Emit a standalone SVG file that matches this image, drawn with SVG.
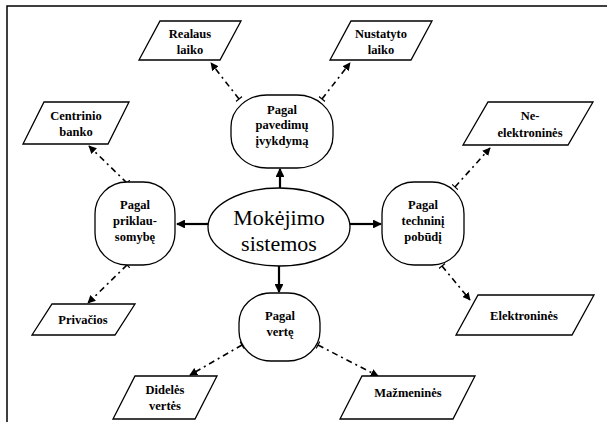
<svg xmlns="http://www.w3.org/2000/svg" width="607" height="422" viewBox="0 0 607 422">
<style>
.shape{fill:#fff;stroke:#000;stroke-width:1.3}
.t{font-family:"Liberation Serif","Times New Roman",serif;font-size:12.5px;font-weight:bold;text-anchor:middle;fill:#000}
.big{font-family:"Liberation Serif","Times New Roman",serif;font-size:22px;text-anchor:middle;fill:#000}
.solid{stroke:#000;stroke-width:2.2;fill:none;marker-end:url(#ah)}
.dash{stroke:#000;stroke-width:1.6;fill:none;stroke-dasharray:6 4 2 4;marker-end:url(#ahs);marker-start:url(#tick)}
</style>
<defs>
<marker id="ah" viewBox="0 0 10 10" refX="9" refY="5" markerWidth="4" markerHeight="4" orient="auto" markerUnits="strokeWidth">
<path d="M0,0 L10,5 L0,10 Z" fill="#000"/>
</marker>
<marker id="ahs" viewBox="0 0 10 10" refX="9" refY="5" markerWidth="5" markerHeight="5" orient="auto" markerUnits="strokeWidth">
<path d="M0,0 L10,5 L0,10 Z" fill="#000"/>
</marker>
<marker id="tick" viewBox="0 0 4 10" refX="1" refY="5" markerWidth="2.5" markerHeight="5" orient="auto" markerUnits="strokeWidth">
<path d="M1,0 L1,10" stroke="#000" stroke-width="1.5"/>
</marker>
</defs>
<rect width="607" height="422" fill="#fff"/>
<g id="frame">
<path d="M7,422 L7,6 L607,6" fill="none" stroke="#000" stroke-width="1.5"/>
</g>
<g id="connectors">
<path class="solid" d="M280,188 L280,169"/>
<path class="solid" d="M208,224 L177,224"/>
<path class="solid" d="M350,224 L381,224"/>
<path class="solid" d="M279,266 L279,292"/>
<path class="dash" d="M239,99 L211,63"/>
<path class="dash" d="M322,99 L350,63"/>
<path class="dash" d="M127,183 L89,146"/>
<path class="dash" d="M127,265 L88,303"/>
<path class="dash" d="M455,187 L490,148"/>
<path class="dash" d="M442,266 L470,300"/>
<path class="dash" d="M242,345 L190,375"/>
<path class="dash" d="M318,345 L378,376"/>
</g>
<g id="center">
<ellipse class="shape" cx="279" cy="227" rx="71" ry="39"/>
<text class="big" x="279" y="225">Mokėjimo</text>
<text class="big" x="279" y="251">sistemos</text>
</g>
<g id="n-top">
<rect class="shape" x="231" y="95" width="102" height="73" rx="36" ry="32"/>
<text class="t" x="282" y="114">Pagal</text>
<text class="t" x="282" y="129">pavedimų</text>
<text class="t" x="282" y="145">įvykdymą</text>
</g>
<g id="n-left">
<rect class="shape" x="95" y="182" width="80" height="83" rx="32" ry="32"/>
<text class="t" x="135" y="209">Pagal</text>
<text class="t" x="135" y="225">priklau-</text>
<text class="t" x="135" y="241">somybę</text>
</g>
<g id="n-right">
<rect class="shape" x="382" y="182" width="82" height="83" rx="32" ry="32"/>
<text class="t" x="423" y="209">Pagal</text>
<text class="t" x="423" y="225">techninį</text>
<text class="t" x="423" y="241">pobūdį</text>
</g>
<g id="n-bottom">
<rect class="shape" x="239" y="293" width="81" height="68" rx="32" ry="30"/>
<text class="t" x="280" y="320">Pagal</text>
<text class="t" x="280" y="336">vertę</text>
</g>
<g id="p-realaus">
<path class="shape" d="M160,21 L241,21 L220,60 L139,60 Z"/>
<text class="t" x="190" y="38">Realaus</text>
<text class="t" x="190" y="54">laiko</text>
</g>
<g id="p-nustatyto">
<path class="shape" d="M351,21 L432,21 L411,60 L330,60 Z"/>
<text class="t" x="381" y="38">Nustatyto</text>
<text class="t" x="381" y="54">laiko</text>
</g>
<g id="p-centrinio">
<path class="shape" d="M44,102 L129,102 L108,144 L23,144 Z"/>
<text class="t" x="76" y="120">Centrinio</text>
<text class="t" x="76" y="136">banko</text>
</g>
<g id="p-ne">
<path class="shape" d="M488,102 L593,102 L568,145 L463,145 Z"/>
<text class="t" x="530" y="120">Ne-</text>
<text class="t" x="530" y="137">elektroninės</text>
</g>
<g id="p-privacios">
<path class="shape" d="M52,304 L135,304 L115,335 L32,335 Z"/>
<text class="t" x="83" y="324">Privačios</text>
</g>
<g id="p-elektronines">
<path class="shape" d="M478,295 L594,295 L572,335 L456,335 Z"/>
<text class="t" x="524" y="320">Elektroninės</text>
</g>
<g id="p-dideles">
<path class="shape" d="M135,376 L217,376 L195,419 L113,419 Z"/>
<text class="t" x="165" y="394">Didelės</text>
<text class="t" x="165" y="410">vertės</text>
</g>
<g id="p-mazmenines">
<path class="shape" d="M362,376 L475,376 L453,419 L340,419 Z"/>
<text class="t" x="408" y="397">Mažmeninės</text>
</g>
</svg>
